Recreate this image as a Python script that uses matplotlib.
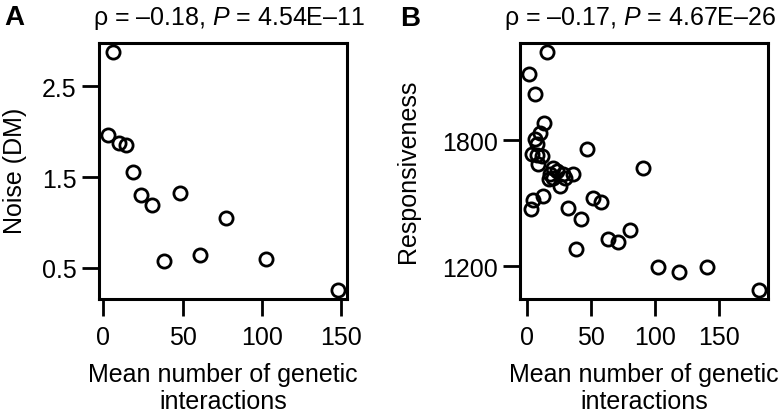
import matplotlib
matplotlib.use("Agg")
import matplotlib.pyplot as plt

# ---- data ----
a_x = [6.3, 3.0, 9.7, 14.3, 18.6, 24.0, 30.4, 48.1, 38.4, 60.8, 77.6, 102.5, 148.1]
a_y = [2.875, 1.97, 1.875, 1.85, 1.56, 1.30, 1.195, 1.33, 0.57, 0.64, 1.05, 0.60, 0.26]

b_x = [13.1, 9.8, 5.9, 7.2, 3.3, 7.2, 11.1, 8.5, 46.3, 20.2, 22.8, 17.6, 20.2, 28.0,
       35.4, 17.1, 25.4, 29.3, 11.9, 4.5, 2.5, 31.9,
       15.0, 1.4, 5.9, 90.1, 51.5, 57.5, 41.6, 37.9, 63.2, 71.1, 80.2, 102.1, 118.8,
       140.7, 180.9]
b_y = [1884, 1837, 1805, 1784, 1733, 1728, 1725, 1685, 1760, 1670, 1653, 1638, 1622, 1638,
       1641, 1614, 1582, 1622, 1534, 1518, 1474, 1479,
       2219, 2118, 2020, 1670, 1526, 1506, 1423, 1280, 1331, 1316, 1372, 1197, 1171,
       1197, 1089]

a_xticks = [0, 50, 100, 150]
a_yticks = [0.5, 1.5, 2.5]
b_xticks = [0, 50, 100, 150]
b_yticks = [1200, 1800]

title_a = r"ρ = –0.18, $\it{P}$ = 4.54E–11"
title_b = r"ρ = –0.17, $\it{P}$ = 4.67E–26"
xlabel_lines = ["Mean number of genetic", "interactions"]

plt.rcParams['font.family'] = ['Liberation Sans', 'DejaVu Sans']
plt.rcParams['mathtext.fontset'] = 'custom'
plt.rcParams['mathtext.rm'] = 'Liberation Sans'
plt.rcParams['mathtext.it'] = 'Liberation Sans:italic'

FS = 18
W, H = 783, 414
fig = plt.figure(figsize=(W / 100, H / 100), dpi=100)


def rng(vals):
    lo, hi = min(vals), max(vals)
    d = (hi - lo) * 0.04
    return lo - d, hi + d


def panel(left, xs, ys, xt, yt, ylabel, ylab_x):
    ax = fig.add_axes([left / W, (H - 300) / H, 248 / W, 256 / H])
    ax.plot(xs, ys, linestyle='none', marker='o', markersize=9.5,
            markerfacecolor='none', markeredgecolor='black', markeredgewidth=2.0)
    ax.set_xlim(*rng(xs))
    ax.set_ylim(*rng(ys))
    ax.set_xticks(xt)
    ax.set_yticks(yt)
    ax.set_xticklabels([str(v) for v in xt])
    ax.set_yticklabels([str(v) for v in yt])
    ax.tick_params(labelsize=FS, length=12, width=2.0, direction='out')
    ax.tick_params(axis='x', pad=7)
    ax.tick_params(axis='y', pad=4)
    for s in ax.spines.values():
        s.set_linewidth(2.2)
    cx = (left + 124) / W
    fig.text(cx, 1 - 382 / H, xlabel_lines[0], fontsize=FS, ha='center', va='baseline')
    fig.text(cx, 1 - 409 / H, xlabel_lines[1], fontsize=FS, ha='center', va='baseline')
    fig.text(ylab_x / W, 1 - 171 / H, ylabel, rotation=90, fontsize=FS,
             ha='center', va='center')
    return ax


panel(99, a_x, a_y, a_xticks, a_yticks, "Noise (DM)", 15)
panel(520, b_x, b_y, b_xticks, b_yticks, "Responsiveness", 408)

fig.text(229 / W, 1 - 25 / H, title_a, fontsize=FS, ha='center', va='baseline')
fig.text(640 / W, 1 - 25 / H, title_b, fontsize=FS, ha='center', va='baseline')
fig.text(4 / W, 1 - 25 / H, "A", fontsize=FS + 2, fontweight='bold', ha='left', va='baseline')
fig.text(400 / W, 1 - 26 / H, "B", fontsize=FS + 2, fontweight='bold', ha='left', va='baseline')

fig.savefig("out.png", dpi=100)
